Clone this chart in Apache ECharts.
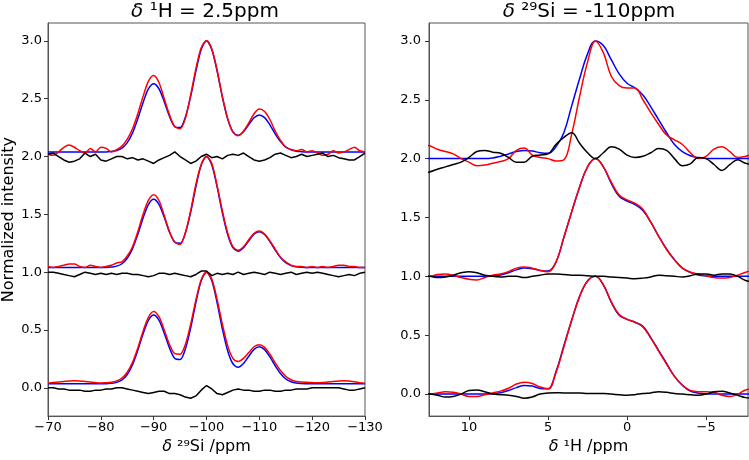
<!DOCTYPE html>
<html><head><meta charset="utf-8">
<script src="https://cdn.jsdelivr.net/npm/echarts@6/dist/echarts.min.js"></script>
<style>html,body{margin:0;padding:0;background:#fff}#c{width:749px;height:460px}</style>
</head><body><div id="c"></div>
<script>
// ---------- Left panel: delta 1H = 2.5 ppm (x = 29Si shift, ppm) ----------
const xLeft = [-70,-71,-72,-73,-74,-75,-76,-77,-78,-79,-80,-81,-82,-83,-84,-85,-86,-87,-88,-89,-90,-91,-92,-93,-94,-95,-96,-97,-98,-99,-100,-101,-102,-103,-104,-105,-106,-107,-108,-109,-110,-111,-112,-113,-114,-115,-116,-117,-118,-119,-120,-121,-122,-123,-124,-125,-126,-127,-128,-129,-130];

const fitLeft0 = [0.035,0.035,0.035,0.035,0.035,0.035,0.035,0.035,0.035,0.035,0.035,0.035,
0.039,0.047,0.068,0.115,0.200,0.325,0.467,0.584,0.630,0.586,
0.473,0.344,0.254,0.245,0.336,0.517,0.740,0.926,1.000,0.926,
0.738,0.511,0.321,0.208,0.178,0.210,0.273,0.332,0.355,0.330,
0.267,0.191,0.124,0.078,0.053,0.041,0.037,
0.035,0.035,0.035,0.035,0.035,0.035,0.035,0.035,0.035,0.035,0.035,0.035];
const expLeft0 = [0.040,0.045,0.050,0.055,0.060,0.062,0.060,0.055,0.050,0.045,
0.042,0.043,0.048,0.060,0.085,0.135,0.220,0.345,0.490,0.610,
0.660,0.615,0.500,0.375,0.295,0.290,0.375,0.550,0.760,0.935,
1.000,0.940,0.765,0.550,0.365,0.255,0.228,0.255,0.305,0.355,
0.372,0.350,0.290,0.215,0.150,0.100,0.070,0.055,0.050,0.048,
0.045,0.043,0.045,0.050,0.055,0.060,0.062,0.060,0.052,0.045,0.040];
const resLeft0 = [0.00,0.00,-0.01,-0.01,-0.02,-0.02,-0.02,-0.03,-0.03,-0.02,
-0.02,-0.01,-0.01,0.00,0.00,-0.01,-0.02,-0.03,-0.04,-0.05,
-0.04,-0.03,-0.03,-0.05,-0.05,-0.06,-0.08,-0.09,-0.07,-0.02,
0.02,-0.01,-0.05,-0.06,-0.04,-0.02,-0.01,-0.02,-0.02,-0.03,
-0.03,-0.02,-0.02,-0.03,-0.03,-0.02,-0.02,-0.01,-0.01,-0.01,
0.00,0.00,0.00,0.00,0.00,0.00,-0.01,-0.02,-0.02,-0.01,0.00];

const fitLeft1 = [1.04,1.04,1.04,1.04,1.04,1.04,1.04,1.04,1.04,1.04,1.04,1.04,
1.044,1.052,1.073,1.120,1.204,1.327,1.468,1.585,1.630,1.586,
1.474,1.346,1.258,1.249,1.339,1.519,1.741,1.926,2.000,1.926,
1.739,1.514,1.326,1.213,1.181,1.211,1.272,1.328,1.350,1.326,
1.265,1.191,1.126,1.082,1.057,1.046,1.042,
1.04,1.04,1.04,1.04,1.04,1.04,1.04,1.04,1.04,1.04,1.04,1.04];
const expLeft1 = [1.05,1.04,1.05,1.06,1.07,1.07,1.05,1.04,1.06,1.05,
1.04,1.05,1.06,1.08,1.09,1.14,1.22,1.35,1.50,1.62,
1.67,1.62,1.49,1.35,1.26,1.24,1.34,1.53,1.76,1.93,
2.00,1.94,1.75,1.53,1.34,1.22,1.19,1.22,1.28,1.335,
1.355,1.33,1.27,1.20,1.13,1.09,1.06,1.05,1.05,1.04,
1.05,1.04,1.05,1.04,1.05,1.06,1.06,1.05,1.05,1.04,1.04];
const resLeft1 = [1.00,1.00,0.99,0.98,0.97,0.96,0.98,1.00,0.99,0.98,
0.99,0.98,0.99,0.98,0.99,0.99,0.98,0.98,0.97,0.96,
0.97,0.99,0.99,0.98,0.99,0.98,0.97,0.96,0.98,1.01,
1.01,0.97,0.99,0.98,0.99,0.98,1.00,0.98,0.99,1.00,
0.99,0.98,1.00,0.99,0.98,0.99,1.00,0.98,0.99,1.00,
0.99,1.00,0.99,0.98,0.97,0.96,0.97,0.98,0.97,0.99,1.00];

const fitLeft2 = [2.04,2.04,2.04,2.04,2.04,2.04,2.04,2.04,2.04,2.04,2.04,2.04,
2.044,2.052,2.073,2.120,2.204,2.327,2.468,2.585,2.630,2.586,
2.474,2.346,2.258,2.250,2.340,2.520,2.740,2.926,3.000,2.926,
2.739,2.514,2.326,2.213,2.183,2.215,2.276,2.335,2.360,2.336,
2.274,2.196,2.129,2.083,2.058,2.046,2.042,
2.04,2.04,2.04,2.04,2.04,2.04,2.04,2.04,2.04,2.04,2.04,2.04];
const expLeft2 = [2.02,2.01,2.04,2.08,2.10,2.08,2.05,2.03,2.07,2.04,
2.08,2.07,2.04,2.06,2.09,2.15,2.24,2.37,2.52,2.65,
2.70,2.64,2.50,2.36,2.26,2.24,2.33,2.53,2.76,2.94,
3.00,2.93,2.75,2.52,2.33,2.21,2.18,2.22,2.29,2.37,
2.41,2.39,2.32,2.22,2.14,2.08,2.06,2.05,2.06,2.04,
2.05,2.03,2.01,2.02,2.05,2.03,2.04,2.06,2.08,2.05,2.04];
const resLeft2 = [2.02,2.03,2.00,1.97,1.95,1.96,1.98,2.03,2.00,2.02,
1.97,1.96,1.98,2.00,2.00,1.98,1.99,1.97,1.98,1.96,
1.94,1.97,1.99,2.01,2.04,2.00,1.97,1.94,1.96,2.00,
2.02,1.99,2.00,1.98,2.01,2.02,2.01,2.03,2.00,1.97,
1.96,1.97,1.99,2.02,2.03,2.01,1.99,2.00,2.02,2.00,
2.01,2.02,2.03,2.00,2.01,1.99,1.98,1.97,1.97,2.00,2.03];

// ---------- Right panel: delta 29Si = -110 ppm (x = 1H shift, ppm) ----------
const xRight = [13,12.5,12,11.5,11,10.5,10,9.5,9,8.5,8,7.5,7,6.5,6,5.5,5,4.5,4,3.5,3,2.5,2,1.5,1,0.5,0,-0.5,-1,-1.5,-2,-2.5,-3,-3.5,-4,-4.5,-5,-5.5,-6,-6.5,-7,-7.5,-8];

const fitRight0 = [0,0,0,0,0,0,0,0,0,
0.003,0.012,0.03,0.055,0.072,0.068,0.048,0.045,0.19,0.41,0.63,0.83,0.96,1.0,0.925,0.78,0.67,0.635,0.61,0.575,0.48,0.37,0.26,0.15,0.075,0.025,0.008,0.002,
0,0,0,0,0,0];
const expRight0 = [0.0,0.0,0.01,0.02,0.015,0.0,-0.02,-0.02,-0.005,0.01,0.025,0.05,0.085,0.10,0.09,0.06,0.045,0.18,0.40,0.63,0.83,0.96,1.0,0.93,0.785,0.675,0.635,0.61,0.57,0.475,0.365,0.255,0.15,0.075,0.03,0.02,0.02,0.015,-0.01,-0.02,0.0,0.035,0.045];
const resRight0 = [0.0,0.0,-0.01,-0.025,-0.02,0.0,0.03,0.035,0.02,0.0,-0.005,-0.01,-0.02,-0.035,-0.025,0.0,0.01,0.012,0.01,0.01,0.01,0.005,0.005,0.005,0.0,-0.005,-0.01,-0.005,0.005,0.01,0.02,0.015,0.005,0.0,-0.005,-0.01,0.0,0.02,0.025,0.01,-0.01,-0.03,-0.035];

const fitRight1 = [1,1,1,1,1,1,1,1,1,
1.003,1.012,1.03,1.055,1.07,1.065,1.05,1.045,1.12,1.33,1.55,1.76,1.93,2.0,1.93,1.79,1.68,1.64,1.61,1.56,1.46,1.34,1.23,1.14,1.07,1.035,1.012,1.004,
1,1,1,1,1,1];
const expRight1 = [1.0,1.0,1.015,1.02,1.01,0.99,0.975,0.97,0.99,1.01,1.02,1.04,1.07,1.08,1.07,1.05,1.04,1.12,1.33,1.55,1.76,1.93,2.0,1.93,1.80,1.69,1.65,1.62,1.57,1.46,1.34,1.23,1.14,1.07,1.035,1.02,1.005,0.99,0.985,0.99,1.01,1.035,1.045];
const resRight1 = [1.0,1.0,0.99,0.995,1.01,1.03,1.04,1.03,1.01,1.0,0.995,1.0,1.0,0.99,1.0,1.01,1.02,1.02,1.015,1.01,1.01,1.005,1.0,1.0,0.995,0.99,0.985,0.98,0.985,0.995,1.01,1.005,1.0,0.995,1.005,1.02,1.02,1.01,1.02,1.02,1.0,0.965,0.955];

const fitRight2 = [2,2,2,2,2,2,2,2,2,
2.005,2.02,2.04,2.06,2.07,2.065,2.05,2.045,2.10,2.22,2.45,2.68,2.89,3.0,2.96,2.84,2.72,2.64,2.60,2.54,2.44,2.33,2.22,2.12,2.06,2.025,2.008,2.002,
2,2,2,2,2,2];
const expRight2 = [2.12,2.11,2.08,2.06,2.04,2.00,1.97,1.94,1.945,1.96,1.975,2.00,2.07,2.09,2.03,2.01,2.00,1.98,1.99,2.21,2.53,2.82,3.00,2.90,2.70,2.62,2.60,2.60,2.50,2.39,2.29,2.20,2.16,2.12,2.05,2.00,2.02,2.08,2.10,2.06,2.01,2.02,2.04];
const resRight2 = [1.87,1.886,1.91,1.93,1.95,1.97,2.01,2.06,2.07,2.055,2.045,2.01,1.97,1.97,2.02,2.03,2.04,2.12,2.18,2.22,2.13,2.05,2.00,2.05,2.10,2.08,2.03,2.01,2.02,2.05,2.085,2.07,2.00,1.94,1.955,2.01,2.00,1.95,1.90,1.95,1.99,1.96,1.95];

// tick labels
const xTicksLeft = [-70,-80,-90,-100,-110,-120,-130];
const xTicksRight = [10,5,0,-5];
const yTicks = [0,0.5,1.0,1.5,2.0,2.5,3.0];

const FONT = 'DejaVu Sans';
const RED = '#ff0000', BLUE = '#0000ff', BLACK = '#000000';
const fmtMinus = v => (v < 0 ? '\u2212' + Math.abs(v) : String(v));

function pairs(xs, ys) { return xs.map((x, i) => [x, ys[i]]); }
function line(idx, xs, ys, color, smooth) {
  return {
    type: 'line', xAxisIndex: idx, yAxisIndex: idx, data: pairs(xs, ys),
    showSymbol: false, symbol: 'none', smooth: smooth, clip: true,
    lineStyle: { color: color, width: 1.5 }, itemStyle: { color: color },
    silent: true, animation: false
  };
}

const series = [];
[[fitLeft0, expLeft0, resLeft0], [fitLeft1, expLeft1, resLeft1], [fitLeft2, expLeft2, resLeft2]].forEach(g => {
  series.push(line(0, xLeft, g[0], BLUE, 0.3));
  series.push(line(0, xLeft, g[1], RED, 0.3));
  series.push(line(0, xLeft, g[2], BLACK, false));
});
[[fitRight0, expRight0, resRight0], [fitRight1, expRight1, resRight1], [fitRight2, expRight2, resRight2]].forEach(g => {
  series.push(line(1, xRight, g[0], BLUE, 0.4));
  series.push(line(1, xRight, g[1], RED, 0.4));
  series.push(line(1, xRight, g[2], BLACK, 0.4));
});

const axisLineStyle = { color: '#555', width: 1 };
const labelBase = { color: '#000', fontFamily: FONT, fontSize: 13 };
const nameStyle = { color: '#000', fontFamily: FONT, fontSize: 16,
  rich: { i: { fontStyle: 'italic', fontFamily: FONT, fontSize: 16, color: '#000' } } };

const chart = echarts.init(document.getElementById('c'), null, { renderer: 'canvas' });
chart.setOption({
  animation: false,
  backgroundColor: '#fff',
  grid: [
    { left: 46, top: 23, width: 319, height: 397, show: true, borderColor: '#555', borderWidth: 1, backgroundColor: 'transparent' },
    { left: 429, top: 23, width: 319, height: 397, show: true, borderColor: '#555', borderWidth: 1, backgroundColor: 'transparent' }
  ],
  xAxis: [
    { gridIndex: 0, type: 'value', min: -130, max: -70, interval: 10, inverse: true,
      splitLine: { show: false }, axisLine: { show: true, onZero: false, lineStyle: axisLineStyle },
      axisTick: { show: true, length: 4, lineStyle: { color: '#333' }, customValues: xTicksLeft },
      axisLabel: Object.assign({ margin: 5, formatter: fmtMinus, customValues: xTicksLeft, showMinLabel: true, showMaxLabel: true }, labelBase),
      name: '{i|δ} ²⁹Si /ppm', nameLocation: 'middle', nameGap: 20, nameTextStyle: nameStyle },
    { gridIndex: 1, type: 'value', min: -7.65, max: 12.53, inverse: true,
      splitLine: { show: false }, axisLine: { show: true, onZero: false, lineStyle: axisLineStyle },
      axisTick: { show: true, length: 4, lineStyle: { color: '#333' }, customValues: xTicksRight },
      axisLabel: Object.assign({ margin: 5, formatter: fmtMinus, customValues: xTicksRight }, labelBase),
      name: '{i|δ} ¹H /ppm', nameLocation: 'middle', nameGap: 20, nameTextStyle: nameStyle }
  ],
  yAxis: [
    { gridIndex: 0, type: 'value', min: -0.2445, max: 3.1545,
      splitLine: { show: false }, axisLine: { show: true, onZero: false, lineStyle: axisLineStyle },
      axisTick: { show: true, length: 4, lineStyle: { color: '#333' }, customValues: yTicks },
      axisLabel: Object.assign({ margin: 6, formatter: v => Number(v).toFixed(1), customValues: yTicks }, labelBase),
      name: 'Normalized intensity', nameLocation: 'middle', nameGap: 31,
      nameTextStyle: { color: '#000', fontFamily: FONT, fontSize: 16 } },
    { gridIndex: 1, type: 'value', min: -0.187, max: 3.152,
      splitLine: { show: false }, axisLine: { show: true, onZero: false, lineStyle: axisLineStyle },
      axisTick: { show: true, length: 4, lineStyle: { color: '#333' }, customValues: yTicks },
      axisLabel: Object.assign({ margin: 8, formatter: v => Number(v).toFixed(1), customValues: yTicks }, labelBase) }
  ],
  graphic: [
    { type: 'text', x: 205, y: 12, silent: true,
      style: { text: '{i|δ} ¹H = 2.5ppm', align: 'center', verticalAlign: 'middle', fill: '#000',
        fontFamily: FONT, fontSize: 20,
        rich: { i: { fontStyle: 'italic', fontFamily: FONT, fontSize: 20, fill: '#000' } } } },
    { type: 'text', x: 589, y: 12, silent: true,
      style: { text: '{i|δ} ²⁹Si = -110ppm', align: 'center', verticalAlign: 'middle', fill: '#000',
        fontFamily: FONT, fontSize: 20,
        rich: { i: { fontStyle: 'italic', fontFamily: FONT, fontSize: 20, fill: '#000' } } } }
  ],
  series: series
});
</script>
</body></html>
